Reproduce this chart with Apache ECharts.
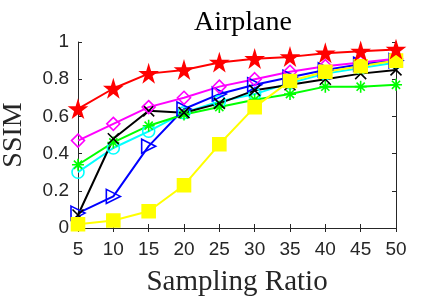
<!DOCTYPE html>
<html><head><meta charset="utf-8">
<script src="https://cdn.jsdelivr.net/npm/echarts@6/dist/echarts.min.js"></script>
<style>html,body{margin:0;padding:0;background:#fff}#c{width:438px;height:297px}</style>
</head><body><div id="c"></div>
<script>
const categories = [5,10,15,20,25,30,35,40,45,50];
const yTicks = [0,0.2,0.4,0.6,0.8,1];
const cyanVals    = [0.30,0.43,0.52,0.62,0.68,0.72,0.78,0.83,0.86,0.89];
const blueVals    = [0.08,0.17,0.44,0.64,0.72,0.77,0.81,0.85,0.88,0.90];
const greenVals   = [0.34,0.46,0.55,0.61,0.65,0.69,0.72,0.76,0.76,0.77];
const blackVals   = [0.07,0.48,0.63,0.62,0.67,0.74,0.77,0.80,0.83,0.85];
const magentaVals = [0.47,0.56,0.65,0.70,0.76,0.80,0.84,0.87,0.89,0.91];
const yellowVals  = [0.02,0.04,0.09,0.23,0.45,0.65,0.79,0.84,0.87,0.90];
const redVals     = [0.64,0.75,0.83,0.85,0.89,0.91,0.92,0.94,0.95,0.96];

const STAR='path://M50,0 L61,35 L98,35 L68,57 L79,91 L50,70 L21,91 L32,57 L2,35 L39,35 Z';
const XMARK='path://M0,0L10,10M10,0L0,10';
const AST='path://M5,0L5,10M0,5L10,5M1.6,1.6L8.4,8.4M8.4,1.6L1.6,8.4';
const TRI='path://M0,0L10,5L0,10Z';

function mk(name, vals, color, symbol, size, filled){
  return {
    name, type:'line', data: categories.map((c,i)=>[c,vals[i]]),
    symbol, symbolSize:size, showAllSymbol:true,
    lineStyle:{color, width:2},
    itemStyle:{color: filled?color:'rgba(0,0,0,0)', borderColor:color, borderWidth:1.6},
    emphasis:{disabled:true}, animation:false
  };
}
const chart = echarts.init(document.getElementById('c'));
const axisCommon = {
  axisLine:{show:true,lineStyle:{color:'#262626',width:1}},
  axisTick:{show:true,inside:true,length:4,lineStyle:{color:'#262626'}},
  splitLine:{show:false}
};
chart.setOption({
  animation:false,
  title:{text:'Airplane',left:238,textAlign:'center',top:4,
    textStyle:{fontFamily:'Liberation Serif',fontSize:28,fontWeight:'normal',color:'#000'}},
  grid:{left:78,right:42,top:42,bottom:69,containLabel:false,outerBoundsMode:'none'},
  xAxis:[
    Object.assign({type:'value',min:5,max:50,interval:5,
      axisLabel:{fontFamily:'Liberation Sans',fontSize:19,color:'#262626',margin:12},
      name:'Sampling Ratio',nameLocation:'middle',nameGap:40,
      nameTextStyle:{fontFamily:'Liberation Serif',fontSize:29,color:'#262626'}},axisCommon),
    Object.assign({type:'value',min:5,max:50,interval:5,position:'top',axisLabel:{show:false}},axisCommon)
  ],
  yAxis:[
    Object.assign({type:'value',min:0,max:1,interval:0.2,
      axisLabel:{fontFamily:'Liberation Sans',fontSize:19,color:'#262626',margin:9,
        formatter:v=>{const t=yTicks.find(x=>Math.abs(x-v)<1e-6);return String(t!==undefined?+t.toFixed(1):v);}},
      name:'SSIM',nameLocation:'middle',nameGap:50,
      nameTextStyle:{fontFamily:'Liberation Serif',fontSize:28,color:'#262626'}},axisCommon),
    Object.assign({type:'value',min:0,max:1,interval:0.2,position:'right',axisLabel:{show:false}},axisCommon)
  ],
  series:[
    mk('cyan',cyanVals,'#00ffff','circle',12,false),
    mk('blue',blueVals,'#0000ff',TRI,14,false),
    mk('green',greenVals,'#00ff00',AST,12,false),
    mk('black',blackVals,'#000000',XMARK,11,false),
    mk('magenta',magentaVals,'#ff00ff','diamond',13,false),
    mk('yellow',yellowVals,'#ffff00','rect',13,true),
    mk('red',redVals,'#ff0000',STAR,16,true)
  ]
});
</script></body></html>
